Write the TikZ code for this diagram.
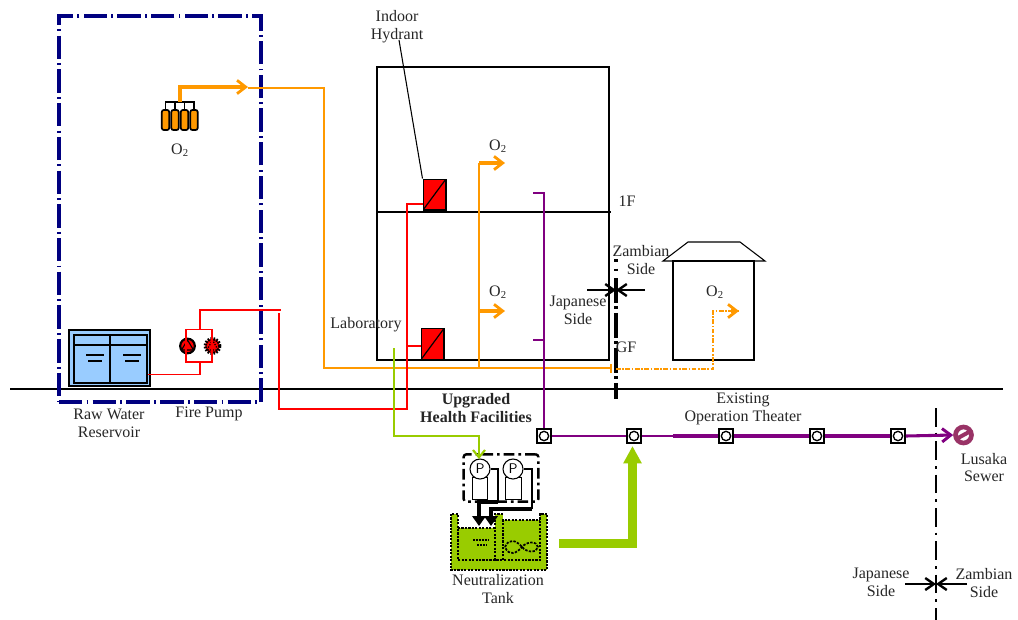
\documentclass[tikz,border=0pt]{standalone}
\usepackage{fontspec}
\setmainfont{Liberation Serif}
\usetikzlibrary{arrows.meta,calc}
\definecolor{navyb}{RGB}{0,0,128}
\definecolor{oxy}{RGB}{255,153,0}
\definecolor{lime}{RGB}{153,204,0}
\definecolor{purp}{RGB}{128,0,128}
\definecolor{water}{RGB}{153,204,255}
\definecolor{sewer}{RGB}{153,51,102}
\tikzset{
 lbl/.style={font=\fontsize{12pt}{13.4pt}\selectfont,align=center,inner sep=0pt,text=black!85},
 dd/.style={dash pattern=on 17.5pt off 3.2pt on 1.4pt off 3.2pt},
 thinl/.style={line width=.8pt},
 oxthin/.style={draw=oxy,line width=1pt},
 oxthick/.style={draw=oxy,line width=2.3pt},
 ah/.style={-{Straight Barb[length=6.5pt,width=10pt,line width=2.1pt]}},
 brda/.style={line width=1.8pt,-{Straight Barb[length=6.5pt,width=9pt,line width=1.8pt]}},
 redl/.style={draw=red,line width=1pt},
 purl/.style={draw=purp,line width=1pt},
 purh/.style={draw=purp,line width=2.3pt},
 limel/.style={draw=lime,line width=1pt},
 mh/.style={draw=black,line width=1.3pt,fill=white,minimum size=10.5pt,inner sep=0pt,
   path picture={\draw[line width=1pt] (path picture bounding box.center) circle (3.5pt);}},
 hyd/.style={draw=black,line width=1pt,fill=red,minimum width=17pt,minimum height=23pt,inner sep=0pt,
   path picture={\draw[line width=.9pt] (path picture bounding box.south west)--(path picture bounding box.north east);}},
 cyl/.style={draw=black,line width=1.3pt,fill=oxy,rounded corners=1.5pt,minimum width=5.5pt,minimum height=15pt,inner sep=0pt},
 ppump/.style={circle,draw=black,line width=.8pt,fill=white,minimum size=15pt,inner sep=0pt,font=\fontsize{10.5pt}{10.5pt}\sffamily},
 pbody/.style={draw=black,line width=.8pt,fill=white,minimum width=11.5pt,minimum height=16pt,inner sep=0pt},
 tankw/.style={draw=black,line width=2pt,dash pattern=on 1.6pt off 1pt},
 kpipe/.style={line width=3pt,-{Triangle[length=7.5pt,width=10pt]}}
}
\begin{document}
\begin{tikzpicture}[x=0.75pt,y=-0.75pt]
\useasboundingbox (0,0) rectangle (1018,619);
% outlines
\node[draw=black,thinl,minimum width=174pt,minimum height=219.75pt,inner sep=0pt] (bldg) at (493,213.5) {};
\coordinate (flL) at (377,212); \coordinate (flR) at (611,212);
\draw[thinl] (flL)--(flR);
\node[draw=black,thinl,minimum width=60.75pt,minimum height=74.25pt,inner sep=0pt] (house) at (713.5,310.5) {};
\draw[thinl] (663,261)--(688,242)--(740,242)--(765,261)--cycle;
\coordinate (gL) at (10,389); \coordinate (gR) at (1003,389);
\draw[thinl] (gL)--(gR);
\node[draw=navyb,line width=2.6pt,dd,minimum width=151.5pt,minimum height=289.5pt,inner sep=0pt] (yard) at (160,209) {};
% border lines
\coordinate (b1d) at (616,259); \coordinate (b1t) at (616,278); \coordinate (b1b) at (616,399);
\draw[line width=3pt,dash pattern=on 2pt off 5.2pt] (b1d)--(b1t);
\draw[line width=3pt,dash pattern=on 19pt off 2.2pt on 2pt off 3pt] (b1t)--(b1b);
\coordinate (b2t) at (936,408); \coordinate (b2b) at (936,620);
\draw[line width=2pt,dash pattern=on 14pt off 4.5pt on 2pt off 4.5pt] (b2t)--(b2b);
\coordinate (a1) at (587,290); \coordinate (a2) at (645,290); \coordinate (a1c) at (616,290);
\draw[brda] (a1)--(a1c);
\draw[brda] (a2)--(a1c);
\coordinate (a3) at (905,584); \coordinate (a4) at (967,584); \coordinate (a3c) at (936,584);
\draw[brda] (a3)--(a3c);
\draw[brda] (a4)--(a3c);
% O2 cylinders
\node[cyl] (c1) at (165.5,120) {};
\node[cyl] (c2) at (175,120) {};
\node[cyl] (c3) at (184.5,120) {};
\node[cyl] (c4) at (194,120) {};
\coordinate (mf) at (165.5,102);
\draw[line width=1.1pt] (c1.north)--(mf)-|(c2.north) (mf)-|(c3.north) (mf)-|(c4.north);
% oxygen
\coordinate (ox0) at (180,102); \coordinate (ox1) at (180,87); \coordinate (ox2) at (248,87);
\coordinate (ox3) at (324,88); \coordinate (ox4) at (324,368); \coordinate (ox5) at (611,368);
\draw[oxthick,ah] (ox0)--(ox1)--(ox2);
\draw[oxthin] (ox2|-ox3)--(ox3)--(ox4)--(ox5);
\draw[oxy,line width=1pt] (611,364)--(611,373);
\coordinate (oy0) at (479,368); \coordinate (oy1) at (479,163); \coordinate (oy2) at (505,163);
\coordinate (oy3) at (479,311); \coordinate (oy4) at (505,311);
\draw[oxthin] (oy0)--(oy1);
\draw[oxthick,ah] (oy1)--(oy2);
\draw[oxthick,ah] (oy3)--(oy4);
\coordinate (od0) at (616,369); \coordinate (od1) at (713,369); \coordinate (od2) at (713,311); \coordinate (od3) at (739,311);
\draw[draw=oxy,line width=2pt,dash pattern=on 3.5pt off 1.2pt on 1.2pt off 1.2pt] (od0)--(od1)--(od2)--(od3);
\draw[oxthick,ah] ($(od3)+(-8,0)$)--(od3);
% reservoir
\node[draw=black,line width=1pt,fill=water,minimum width=60.75pt,minimum height=42pt,inner sep=0pt] (res) at (109.5,358) {};
\draw[line width=1pt] (74,335) rectangle (147,383) (74,345)--(147,345) (110,335)--(110,383);
\draw[line width=.9pt] (86,355)--(104,355) (88,361)--(102,361) (123,355)--(141,355) (125,361)--(139,361);
% fire pumps
\node[circle,draw=black,line width=1.6pt,fill=red,minimum size=11pt,inner sep=0pt] (fp1) at (187.5,346) {};
\draw[line width=.8pt,fill=red] (181.5,350)--(187.5,340)--(193.5,350)--cycle;
\node[circle,draw=black,line width=2.4pt,dash pattern=on 1.3pt off .9pt,fill=red,minimum size=11pt,inner sep=0pt] (fp2) at (212.5,346) {};
\draw[line width=.9pt,dash pattern=on 1pt off 1pt] (207,350)--(212.5,340)--(218,350)--cycle;
% red piping
\coordinate (r0) at (148,374.5); \coordinate (r1) at (200,374.5); \coordinate (r2) at (200,362);
\draw[redl] (r0)--(r1)--(r2);
\draw[redl] (186,362)--(186,329.5)--(212,329.5)--(212,362)--cycle;
\coordinate (r3) at (200,329.5); \coordinate (r4) at (200,310); \coordinate (r5) at (281,310);
\draw[redl] (r3)--(r4)--(r5);
% hydrants
\node[hyd] (h1) at (434.5,194.5) {};
\node[hyd] (h2) at (432.5,344) {};
\coordinate (r6) at (279,313); \coordinate (r7) at (279,409); \coordinate (r8) at (407,409); \coordinate (r9) at (407,204);
\draw[redl] (r6)--(r7)--(r8)--(r9)--(r9-|h1.west);
\coordinate (r10) at (407,346);
\draw[redl] (r10)--(r10-|h2.west);
\coordinate (hl) at (399,40);
\draw[thinl] (hl)--(h1.north west);
% manholes
\node[mh] (m1) at (544,436) {};
\node[mh] (m2) at (634,436) {};
\node[mh] (m3) at (726,436) {};
\node[mh] (m4) at (817,436) {};
\node[mh] (m5) at (898,436) {};
\node[circle,draw=sewer,line width=3.5pt,fill=white,minimum size=12pt,inner sep=0pt] (sw) at (963.5,435) {};
\draw[sewer,line width=3pt] (958,438)--(969,432);
% purple
\coordinate (p0) at (533,193); \coordinate (p1) at (544,193); \coordinate (p2) at (533,340); \coordinate (p3) at (544,340);
\draw[purl] (p0)--(p1)--(m1.north);
\draw[purl] (p2)--(p3);
\draw[purl] (m1.east)--(m2.west);
\coordinate (p4) at (673,436);
\draw[purl] (m2.east)--(p4);
\draw[purh] (p4)--(m3.west);
\draw[purh] (m3.east)--(m4.west);
\draw[purh] (m4.east)--(m5.west);
\draw[purh,-{Straight Barb[length=6.5pt,width=10pt,line width=2.2pt]}] (m5.east)--(sw.west);
% pump set
\node[draw=black,line width=1.8pt,dash pattern=on 8pt off 3pt on 2pt off 3pt,rounded corners=2pt,minimum width=56pt,minimum height=35.5pt,inner sep=0pt] (pset) at (501,478) {};
\node[pbody] (pb1) at (480,488.5) {};
\node[pbody] (pb2) at (513.5,488.5) {};
\node[ppump] (pp1) at (480,469) {P};
\node[ppump] (pp2) at (513,469) {P};
% tank
\fill[lime] (451,514) rectangle (547,570);
\fill[white] (458,514) rectangle (495,528);
\fill[white] (503,514) rectangle (540,520);
\draw[tankw] (451,514)--(451,570)--(547,570)--(547,514)--(540,514)--(540,560)--(503,560)--(503,520)--(540,520);
\draw[tankw] (503,514)--(495,514)--(495,560)--(503,560);
\draw[tankw] (495,560)--(458,560)--(458,514)--(451,514);
\draw[tankw] (458,528)--(495,528);
\draw[line width=1pt,dash pattern=on 1.5pt off .8pt] (473,540)--(489,540) (477,545)--(487,545);
\draw[line width=1.3pt,dash pattern=on 1.8pt off 1pt] (505,547) .. controls (509,537) and (517,541) .. (522,547) .. controls (527,553) and (537,553) .. (538,547) .. controls (537,541) and (527,541) .. (522,547) .. controls (517,553) and (509,557) .. (505,547) -- cycle;
% black pump piping
\coordinate (k1) at (498,469); \coordinate (k2) at (498,502); \coordinate (k3) at (479,502); \coordinate (k4) at (479,526);
\coordinate (k5) at (532,469); \coordinate (k6) at (532,509); \coordinate (k7) at (491,509); \coordinate (k8) at (491,526);
\draw[line width=1.5pt] (pp1.east)--(k1)--(k2);
\draw[line width=1.5pt] (pp2.east)--(k5)--(k6);
\draw[kpipe] (k2)--(k3)--(k4);
\draw[line width=2.4pt,-{Triangle[length=7.5pt,width=10pt]}] (k6)--(k7)--(k8);
% lime
\coordinate (l0) at (394,348); \coordinate (l1) at (394,436); \coordinate (l2) at (479,436); \coordinate (l3) at (479,459);
\draw[limel,-{Straight Barb[length=5.5pt,width=9pt,line width=1.6pt]}] (l0)--(l1)--(l2)--(l3);
\coordinate (g0) at (559,543.5); \coordinate (g1) at (632.5,543.5); \coordinate (g2) at (632.5,446);
\draw[lime,line width=6.5pt,-{Triangle[length=13pt,width=13pt]}] (g0)--(g1)--(g2);
% labels
\node[lbl] (tIH) at (397,27) {Indoor\\Hydrant};
\node[lbl] (tO1) at (180,150) {O\textsubscript{2}};
\node[lbl] (tO2) at (498,146) {O\textsubscript{2}};
\node[lbl] (tO3) at (498,292) {O\textsubscript{2}};
\node[lbl] (tO4) at (715,292) {O\textsubscript{2}};
\node[lbl] (t1F) at (627,201) {1F};
\node[lbl] (tGF) at (626,347) {GF};
\node[lbl] (tZ1) at (641,260) {Zambian\\Side};
\node[lbl] (tJ1) at (578,310) {Japanese\\Side};
\node[lbl] (tLab) at (366,325) {Laboratory};
\node[lbl] (tRW) at (109,423) {Raw Water\\Reservoir};
\node[lbl] (tFP) at (209,414) {Fire Pump};
\node[lbl,font=\fontsize{12pt}{13.4pt}\selectfont\bfseries] (tUH) at (476,408) {Upgraded\\Health Facilities};
\node[lbl] (tOT) at (743,409) {Existing\\Operation Theater};
\node[lbl] (tLS) at (984,467.5) {Lusaka\\Sewer};
\node[lbl] (tNT) at (498,589) {Neutralization\\Tank};
\node[lbl] (tJ2) at (881,582.5) {Japanese\\Side};
\node[lbl] (tZ2) at (984,583) {Zambian\\Side};
\end{tikzpicture}
\end{document}
